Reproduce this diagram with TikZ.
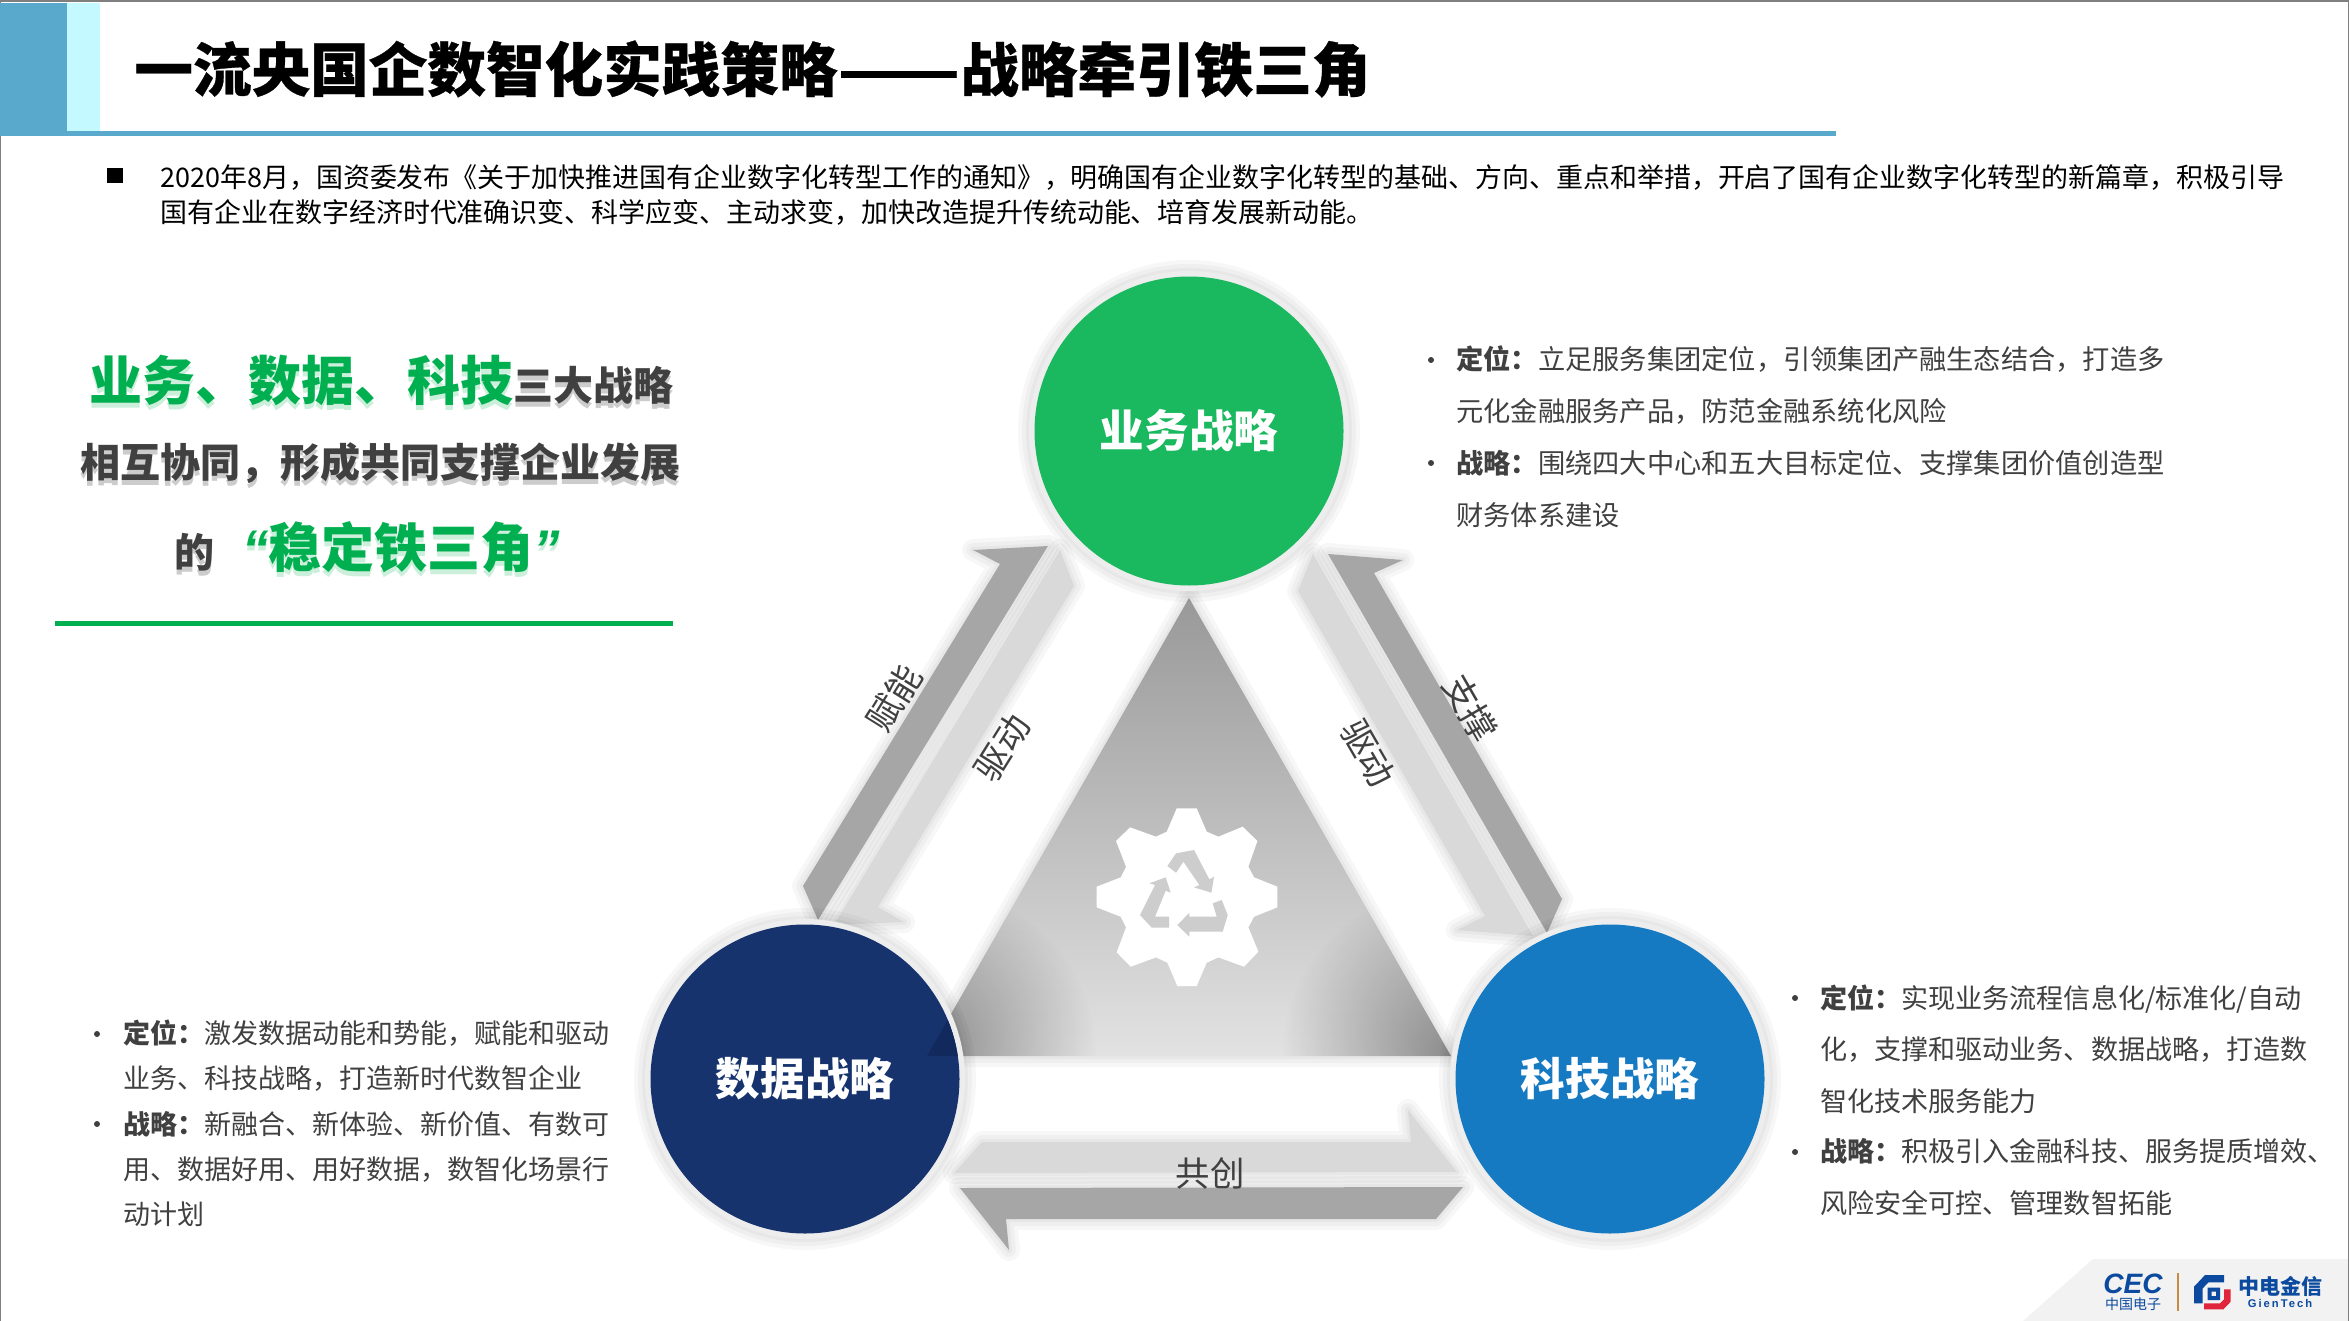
\documentclass[tikz,border=0pt]{standalone}
\usepackage{graphicx}
\usepackage{fontspec}
\usetikzlibrary{fadings}
\setmainfont{Noto Sans CJK SC}
\newfontfamily\quotef{Liberation Sans}
\newfontfamily\spacedf[LetterSpace=18]{Liberation Sans}
\definecolor{hblue}{HTML}{58A9CC}
\definecolor{hcyan}{HTML}{C4F9FF}
\definecolor{frame}{HTML}{7F7F7F}
\definecolor{body}{HTML}{404040}
\definecolor{sgreen}{HTML}{00B050}
\definecolor{cgreen}{HTML}{1AB85F}
\definecolor{cnavy}{HTML}{17336D}
\definecolor{cnavyd}{HTML}{12295E}
\definecolor{cblue}{HTML}{167AC3}
\definecolor{ring}{HTML}{EDEDED}
\definecolor{adark}{HTML}{A6A6A6}
\definecolor{alight}{HTML}{D9D9D9}
\definecolor{recyc}{HTML}{CDCDCD}
\definecolor{logob}{HTML}{0B4A9E}
\definecolor{logor}{HTML}{E0243C}
\definecolor{logoo}{HTML}{C98A44}
\definecolor{banner}{HTML}{F2F2F2}
\definecolor{tritop}{HTML}{999999}
\definecolor{tribot}{HTML}{E2E2E2}
\tikzfading[name=cornerfade,inner color=transparent!62,outer color=transparent!100]
\newcommand{\fs}[1]{\fontsize{#1}{#1}\selectfont}
\newcommand{\softhalo}[1]{\foreach \haloW in {11,7,3}{\draw[black,opacity=.03,line width=\haloW pt,line join=round] #1;}}
\newcommand{\shadowed}[4]{% name, position, font, content
  \node[lefttext,text=black,text opacity=.2,font=#3] at ([shift={(0,5)}]#2) {#4};
  \node[lefttext,font=#3] (#1) at (#2) {#4};}
\tikzset{
  x=0.5pt,y=-0.5pt,
  lefttext/.style={inner sep=0pt,text=body,font=\bfseries},
  itemr/.style={inner sep=0pt,anchor=west,align=left,text=body,font=\fontsize{13.62}{25.9}\selectfont},
  iteml/.style={inner sep=0pt,anchor=west,align=left,text=body,font=\fontsize{13.5}{22.5}\selectfont},
  itemb/.style={inner sep=0pt,anchor=west,align=left,text=body,font=\fontsize{13.53}{25.7}\selectfont},
  dotb/.style={circle,fill=body,inner sep=0pt,minimum size=3pt},
  arrowlabel/.style={inner sep=0pt,text=body,font=\fs{17.5}},
  circlering/.style={circle,fill=ring,inner sep=0pt,minimum size=160pt},
  circlelabel/.style={circle,inner sep=0pt,minimum size=154.5pt,text=white,font=\bfseries\fs{22.3}},
  darkarrow/.style={fill=adark},
  lightarrow/.style={fill=alight},
}
\begin{document}
\begin{tikzpicture}
\useasboundingbox (0,0) rectangle (2349,1321);
\fill[white] (0,0) rectangle (2349,1321);
% logo banner
\fill[banner] (2093,1259) -- (2349,1259) -- (2349,1321) -- (2023,1321) -- cycle;
% frame
\draw[frame,line width=1pt] (0,1321) -- (0,1) -- (2349,1) -- (2349,1321);
% header
\fill[hblue] (0,3) rectangle (67,136);
\fill[hcyan] (67,3) rectangle (100,131);
\fill[hblue] (67,131) rectangle (1836,136);
\node[inner sep=0pt,anchor=west,text=black,font=\bfseries\addfontfeature{FakeBold=0.5}\fs{29.3}] (title) at (134,69) {一流央国企数智化实践策略\scalebox{1.22}[1]{——}战略牵引铁三角};
% intro
\fill[black] (107,168) rectangle (123,183);
\node[inner sep=0pt,anchor=west,text=black,font=\fs{13.48}] (introa) at (160,177) {2020年8月，国资委发布《关于加快推进国有企业数字化转型工作的通知》，明确国有企业数字化转型的基础、方向、重点和举措，开启了国有企业数字化转型的新篇章，积极引导};
\node[inner sep=0pt,anchor=west,text=black,font=\fs{13.48}] (introb) at (160,212) {国有企业在数字经济时代准确识变、科学应变、主动求变，加快改造提升传统动能、培育发展新动能。};
% left headline
\shadowed{heada}{381,380}{\bfseries\fs{20}}{{\color{sgreen}\fs{26.5}业务、数据、科技}三大战略}
\shadowed{headb}{380,463}{\bfseries\fs{20}}{相互协同，形成共同支撑企业发展}
\shadowed{headc}{367,547}{\bfseries\fs{20}}{的\hspace{14pt}{\color{sgreen}\fs{26.5}{\quotef\itshape “}稳定铁三角{\quotef\itshape ”}}}
\fill[sgreen] (55,621) rectangle (673,626);
% triangle
\softhalo{(1189,598) -- (1451,1056) -- (927,1056) -- cycle}
\begin{scope}
\clip (1189,598) -- (1451,1056) -- (927,1056) -- cycle;
\shade[top color=tritop,bottom color=tribot] (900,598) rectangle (1480,1056);
\fill[black,path fading=cornerfade] (1451,1056) circle (170);
\fill[black,path fading=cornerfade] (927,1056) circle (170);
\end{scope}
% gear
\fill[white,shift={(1050,770)},x=0.1667pt,y=-0.1667pt] (380,115) -- (440,115) -- (470,185) -- (505,200) -- (578,170) -- (622,213) -- (595,290) -- (612,322) -- (682,350) -- (682,412) -- (612,440) -- (595,472) -- (625,545) -- (582,590) -- (505,562) -- (470,578) -- (440,648) -- (382,648) -- (352,578) -- (318,562) -- (242,590) -- (200,547) -- (228,472) -- (212,440) -- (140,412) -- (140,350) -- (212,322) -- (228,290) -- (198,213) -- (240,172) -- (318,200) -- (350,185) -- cycle;
\begin{scope}[shift={(1050,770)},x=0.1667pt,y=-0.1667pt]
\fill[recyc] (352,288) -- (378,250) -- (432,240) -- (478,328) -- (492,320) -- (484,368) -- (432,352) -- (448,345) -- (400,275) -- (378,308) -- cycle;
\fill[recyc] (347,322) -- (362,368) -- (347,362) -- (315,440) -- (357,440) -- (357,473) -- (305,473) -- (270,435) -- (315,345) -- (298,340) -- cycle;
\fill[recyc] (488,400) -- (515,390) -- (533,435) -- (518,485) -- (418,485) -- (418,500) -- (382,465) -- (418,428) -- (418,440) -- (500,440) -- cycle;
\end{scope}
% arrows
\softhalo{(1048,546) -- (973,550) -- (1000,564) -- (803,886) -- (818,920) -- cycle}
\softhalo{(1060,550) -- (1074,586) -- (878,907) -- (904,922) -- (834,925) -- cycle}
\softhalo{(1328,554) -- (1403,560) -- (1374,573) -- (1562,899) -- (1547,933) -- cycle}
\softhalo{(1313,554) -- (1298,591) -- (1485,916) -- (1457,930) -- (1533,936) -- cycle}
\softhalo{(954,1173) -- (982,1142) -- (1411,1142) -- (1408,1110) -- (1457,1172) -- cycle}
\softhalo{(960,1188) -- (1463,1187) -- (1436,1219) -- (1006,1219) -- (1009,1250) -- cycle}
\fill[darkarrow] (1048,546) -- (973,550) -- (1000,564) -- (803,886) -- (818,920) -- cycle;
\fill[lightarrow] (1060,550) -- (1074,586) -- (878,907) -- (904,922) -- (834,925) -- cycle;
\fill[darkarrow] (1328,554) -- (1403,560) -- (1374,573) -- (1562,899) -- (1547,933) -- cycle;
\fill[lightarrow] (1313,554) -- (1298,591) -- (1485,916) -- (1457,930) -- (1533,936) -- cycle;
\fill[lightarrow] (954,1173) -- (982,1142) -- (1411,1142) -- (1408,1110) -- (1457,1172) -- cycle;
\fill[darkarrow] (960,1188) -- (1463,1187) -- (1436,1219) -- (1006,1219) -- (1009,1250) -- cycle;
% arrow labels
\node[arrowlabel,rotate=58] (lfn) at (894,698) {赋能};
\node[arrowlabel,rotate=58] (lqa) at (1002,748) {驱动};
\node[arrowlabel,rotate=-60] (lqb) at (1368,753) {驱动};
\node[arrowlabel,rotate=-60] (lzc) at (1470,708) {支撑};
\node[arrowlabel,font=\fs{17.2}] (lgc) at (1210,1173) {共创};
% circles
\softhalo{(1189,431) circle (160)}
\softhalo{(805,1079) circle (160)}
\softhalo{(1610,1079) circle (160)}
\node[circlering] (rb) at (1189,431) {};
\node[circlering] (rd) at (805,1079) {};
\node[circlering] (rk) at (1610,1079) {};
\node[circlelabel,fill=cgreen] (biz) at (1189,431) {业务战略};
\node[circlelabel,fill=cnavy] (dat) at (805,1079) {};
\begin{scope}
\clip (805,1079) circle (154.5);
\fill[cnavyd] (1189,598) -- (1451,1056) -- (927,1056) -- cycle;
\end{scope}
\node[circlelabel] (datl) at (805,1079) {数据战略};
\node[circlelabel,fill=cblue] (tec) at (1610,1079) {科技战略};
% right-top list
\node[dotb] (da) at (1431,360) {};
\node[itemr] (ta) at (1456,385) {\textbf{定位：}立足服务集团定位，引领集团产融生态结合，打造多\\元化金融服务产品，防范金融系统化风险};
\node[dotb] (db) at (1431,463) {};
\node[itemr] (tb) at (1456,489) {\textbf{战略：}围绕四大中心和五大目标定位、支撑集团价值创造型\\财务体系建设};
% left-bottom list
\node[dotb] (dc) at (97,1034) {};
\node[iteml] (tc) at (123,1056) {\textbf{定位：}激发数据动能和势能，赋能和驱动\\业务、科技战略，打造新时代数智企业};
\node[dotb] (dd) at (97,1124) {};
\node[iteml] (td) at (123,1169) {\textbf{战略：}新融合、新体验、新价值、有数可\\用、数据好用、用好数据，数智化场景行\\动计划};
% right-bottom list
\node[dotb] (de) at (1795,998) {};
\node[itemb] (te) at (1820,1049) {\textbf{定位：}实现业务流程信息化/标准化/自动\\化，支撑和驱动业务、数据战略，打造数\\智化技术服务能力};
\node[dotb] (df) at (1795,1152) {};
\node[itemb] (tf) at (1820,1177) {\textbf{战略：}积极引入金融科技、服务提质增效、\\风险安全可控、管理数智拓能};
% logo
\node[inner sep=0pt,text=logob,font=\quotef\bfseries\itshape\fs{14}] (cec) at (2133,1283.5) {CEC};
\node[inner sep=0pt,text=logob,font=\fs{7}] (cecz) at (2133,1304) {中国电子};
\fill[logoo] (2177,1273) rectangle (2179,1311);
\begin{scope}[shift={(2020,1240)},x=0.1667pt,y=-0.1667pt]
\fill[logob] (555,105) -- (612,105) -- (612,127) -- (565,127) -- (548,145) -- (548,190) -- (522,190) -- (522,140) -- cycle;
\fill[logob,even odd rule] (563,143) rectangle (600,180) (575,155) rectangle (588,168);
\fill[logor] (612,148) -- (632,148) -- (632,185) -- (610,208) -- (552,208) -- (552,190) -- (600,190) -- (612,178) -- cycle;
\end{scope}
\node[inner sep=0pt,text=logob,font=\bfseries\fs{10.5}] (gz) at (2280,1286) {中电金信};
\node[inner sep=0pt,text=logob,font=\spacedf\bfseries\fs{5.6}] (ge) at (2280,1303) {GienTech};
\end{tikzpicture}
\end{document}
